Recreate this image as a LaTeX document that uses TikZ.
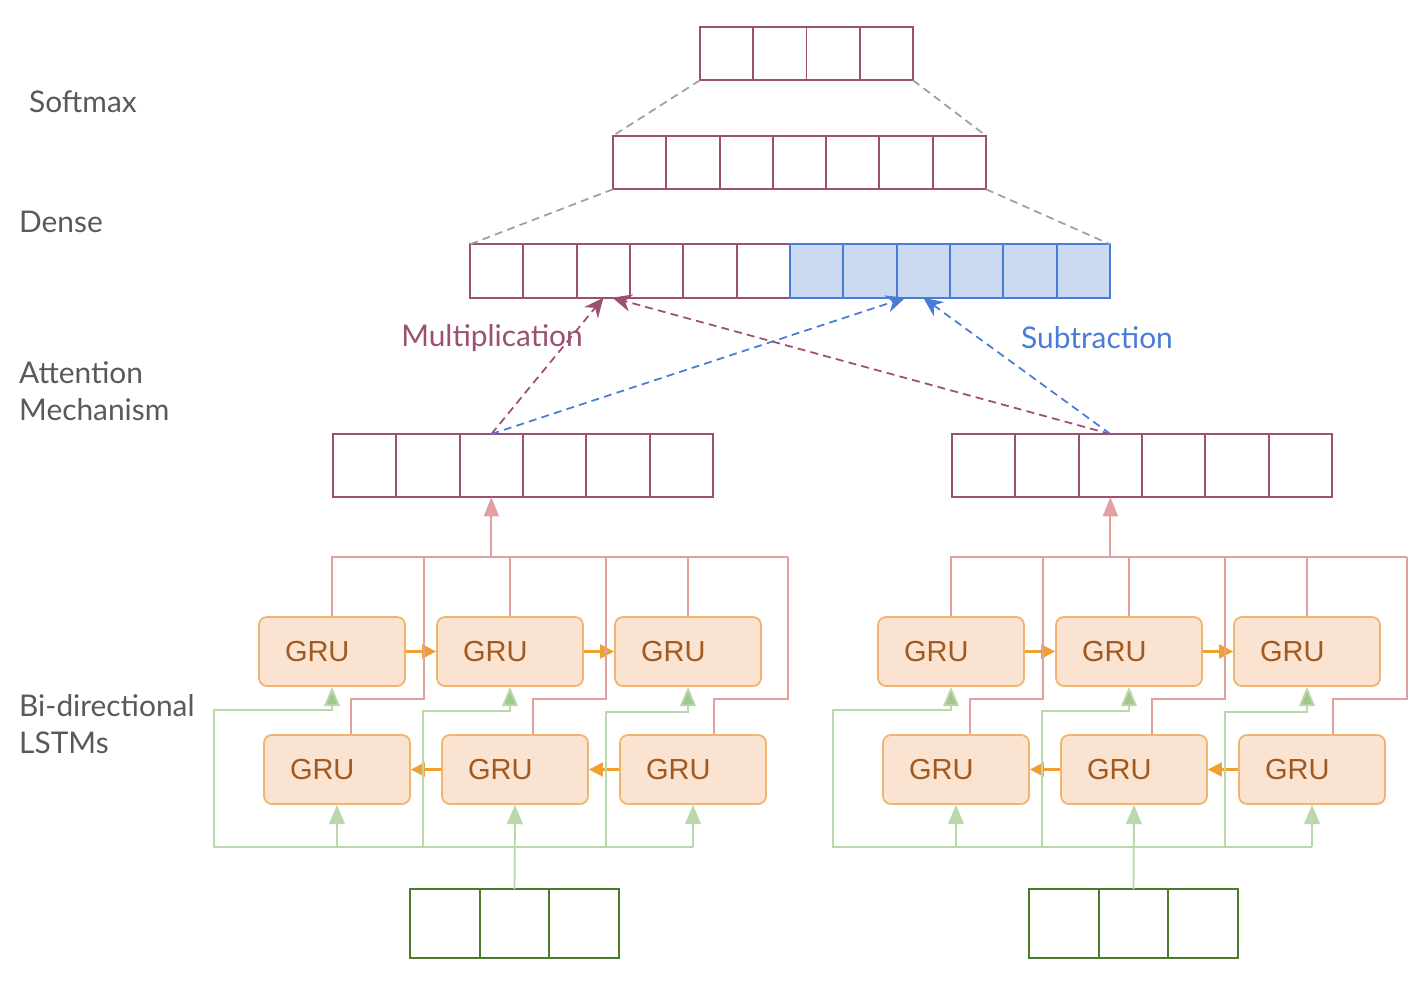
\documentclass[tikz,border=0pt]{standalone}
\usepackage{fontspec}
\setmainfont{Lato}
\newfontfamily\grufont{Liberation Sans}
\usepackage{xcolor}
\usepackage{tikz}
\usetikzlibrary{positioning,calc,arrows.meta}

\definecolor{plum}{HTML}{9B4F73}
\definecolor{skyblue}{HTML}{4A7CD6}
\definecolor{skyfill}{HTML}{CBDAF3}
\definecolor{rosewire}{HTML}{E3A0A0}
\definecolor{leafwire}{HTML}{BBD8AD}
\definecolor{leafhead}{HTML}{A2C78D}
\definecolor{forest}{HTML}{4B7B2C}
\definecolor{grufill}{HTML}{FAE4D1}
\definecolor{gruedge}{HTML}{F0B46E}
\definecolor{grutext}{HTML}{A1591F}
\definecolor{amber}{HTML}{F0A030}
\definecolor{labelgray}{HTML}{595959}

\tikzset{
  cell/.style={draw=plum, line width=1.1pt, inner sep=0pt, outer sep=0pt,
    minimum width=1.066cm, minimum height=1.07cm},
  bluecell/.style={cell, draw=skyblue, fill=skyfill},
  attcell/.style={cell, minimum width=1.267cm, minimum height=1.26cm},
  incell/.style={cell, draw=forest, minimum width=1.393cm, minimum height=1.38cm},
  gru/.style={draw=gruedge, fill=grufill, line width=1pt, rounded corners=4.5pt,
    minimum width=2.92cm, minimum height=1.38cm, text width=1.88cm, inner xsep=0.52cm,
    align=left, font=\grufont\fontsize{16.5}{18}\selectfont, text=grutext},
  layer/.style={anchor=west, align=left, text=labelgray},
  greydash/.style={draw=gray!75, line width=1pt, dash pattern=on 4.5pt off 3pt},
  plumdash/.style={draw=plum, line width=1pt, dash pattern=on 4.5pt off 3pt,
    -{Stealth[length=11pt, width=10pt]}},
  bluedash/.style={plumdash, draw=skyblue},
  rosewire/.style={draw=rosewire, line width=1.1pt},
  rosearrow/.style={rosewire, -{Triangle[length=11pt, width=8.5pt]}},
  leafline/.style={draw=leafwire, line width=1.1pt},
  leafarrow/.style={leafline, -{Triangle[length=11pt, width=9pt, fill=leafhead]}},
  leafup/.style={leafline, -{Triangle[length=11pt, width=9pt]}},
  amberarrow/.style={draw=amber, line width=1.2pt, -{Triangle[length=8pt, width=8pt]}}
}

\begin{document}
\begin{tikzpicture}[x=0.02cm, y=-0.02cm, font=\fontsize{17}{21}\selectfont]
  \useasboundingbox (0,0) rectangle (1419,991);

  % Layer names
  \node[layer] (lsoft) at (23,102) {Softmax};
  \node[layer] (ldense) at (13,222) {Dense};
  \node[layer] (latt) at (13,391) {Attention\\Mechanism};
  \node[layer] (llstm) at (13,724) {Bi-directional\\LSTMs};

  % Softmax, Dense and concatenated vectors
  \foreach \i in {0,...,3}
    \node[cell] (sm\i) at (700+53.25*\i+26.6, 53.5) {};
  \foreach \i in {0,...,6}
    \node[cell] (de\i) at (613+53.3*\i+26.6, 162.5) {};
  \foreach \i in {0,...,5}
    \node[cell] (cat\i) at (470+53.33*\i+26.7, 271) {};
  \foreach \i in {6,...,11}
    \node[bluecell] (cat\i) at (470+53.33*\i+26.7, 271) {};

  \draw[greydash] (sm0.south west) -- (de0.north west);
  \draw[greydash] (sm3.south east) -- (de6.north east);
  \draw[greydash] (de0.south west) -- (cat0.north west);
  \draw[greydash] (de6.south east) -- (cat11.north east);

  % Two encoders: attention vector, GRUs, input
  \foreach \s/\dx in {L/0,R/619}{
    \begin{scope}[xshift=\dx*0.02cm]
      \foreach \i in {0,...,5}
        \node[attcell] (att\s\i) at (333+63.33*\i+31.7, 465.5) {};
      \foreach \i in {0,...,2}
        \node[incell] (in\s\i) at (410+69.67*\i+34.8, 923.5) {};

      \node[gru] (gruT\s1) at (332,651.5) {GRU};
      \node[gru] (gruT\s2) at (510,651.5) {GRU};
      \node[gru] (gruT\s3) at (688,651.5) {GRU};
      \node[gru] (gruB\s1) at (337,769.5) {GRU};
      \node[gru] (gruB\s2) at (515,769.5) {GRU};
      \node[gru] (gruB\s3) at (693,769.5) {GRU};

      % forward and backward links
      \draw[amberarrow] (gruT\s1.east) -- (gruT\s2.west);
      \draw[amberarrow] (gruT\s2.east) -- (gruT\s3.west);
      \draw[amberarrow] (gruB\s3.west) -- (gruB\s2.east);
      \draw[amberarrow] (gruB\s2.west) -- (gruB\s1.east);

      % outputs to attention
      \draw[rosewire] (gruT\s1.north) |- (788,557);
      \draw[rosewire] (gruT\s2.north) -- (gruT\s2.north |- 0,557);
      \draw[rosewire] (gruT\s3.north) -- (gruT\s3.north |- 0,557);
      \draw[rosewire] ([xshift=0.28cm]gruB\s1.north) -- ++(0,-35) -| (424,557);
      \draw[rosewire] ([xshift=0.36cm]gruB\s2.north) -- ++(0,-35) -| (606,557);
      \draw[rosewire] ([xshift=0.42cm]gruB\s3.north) -- ++(0,-35) -| (788,557);
      \draw[rosearrow] (att\s2.south |- 0,557) -- (att\s2.south);

      % inputs to GRUs
      \draw[leafup] (in\s1.north) -- (gruB\s2.south);
      \draw[leafup] (gruB\s3.south |- 0,847) -- (gruB\s3.south);
      \draw[leafup] (gruB\s1.south |- 0,847) -- (gruB\s1.south);
      \draw[leafarrow] (gruB\s3.south |- 0,847) -| (214,710) -| (gruT\s1.south);
      \draw[leafarrow] (423,847) |- (gruT\s2.south |- 0,711) -- (gruT\s2.south);
      \draw[leafarrow] (606,847) |- (gruT\s3.south |- 0,712) -- (gruT\s3.south);
    \end{scope}
  }

  % Multiplication and subtraction
  \draw[plumdash] (attL2.north) -- (cat2.south);
  \draw[plumdash] (attR2.north) -- ([xshift=0.18cm]cat2.south);
  \draw[bluedash] (attL2.north) -- ([xshift=-0.36cm]cat8.south);
  \draw[bluedash] (attR2.north) -- (cat8.south);
  \node[text=plum] (lmul) at (492,338) {Multiplication};
  \node[text=skyblue] (lsub) at (1097,338) {Subtraction};
\end{tikzpicture}
\end{document}
